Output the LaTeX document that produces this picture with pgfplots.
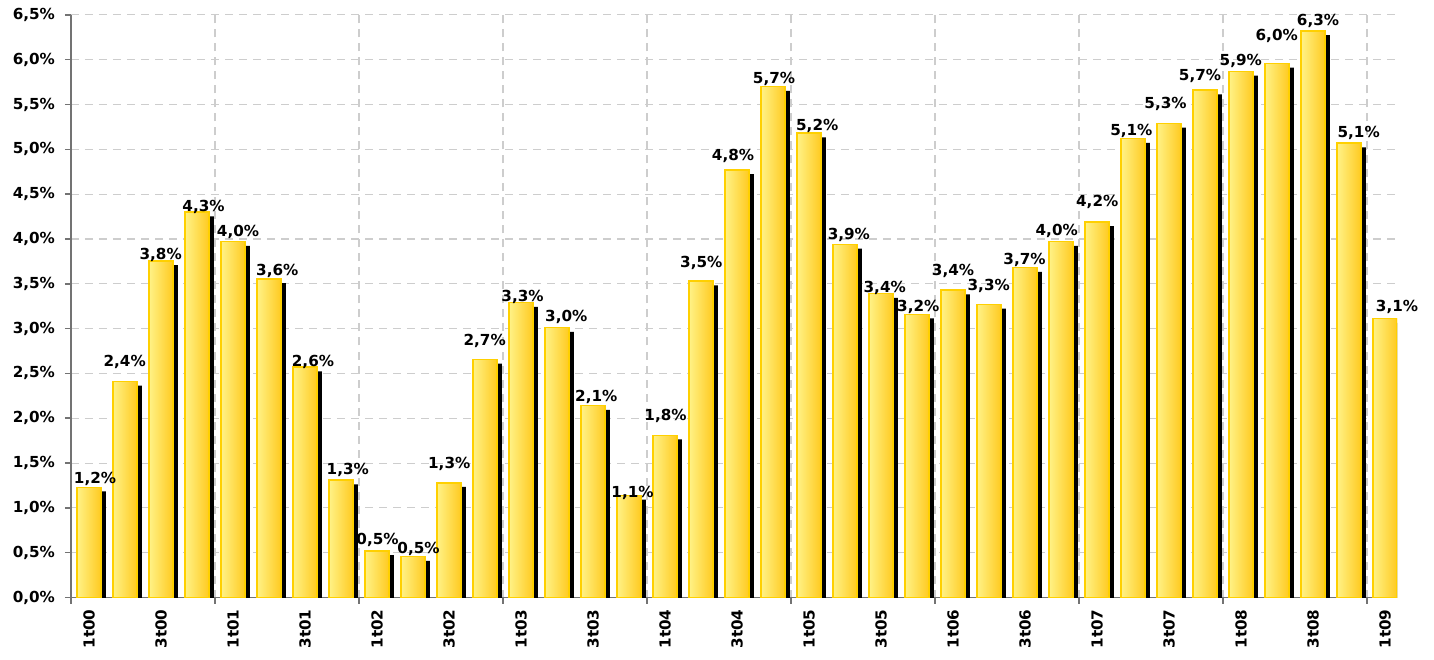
\documentclass[border=0pt]{standalone}
\usepackage{fontspec}
\setmainfont{DejaVu Sans}
\usepackage{pgfplots}
\usepackage{pgfplotstable}
\pgfplotsset{compat=1.18}
\definecolor{barL}{RGB}{255,242,135}
\definecolor{barR}{RGB}{255,202,32}
\definecolor{barE}{RGB}{255,208,0}
\definecolor{gridc}{RGB}{205,205,205}
\definecolor{axc}{RGB}{115,115,115}

\pgfplotstableread{
x y
0 1.23
1 2.41
2 3.755
3 4.30
4 3.97
5 3.555
6 2.57
7 1.31
8 0.52
9 0.455
10 1.28
11 2.655
12 3.29
13 3.01
14 2.14
15 1.14
16 1.81
17 3.53
18 4.77
19 5.70
20 5.18
21 3.94
22 3.39
23 3.16
24 3.43
25 3.27
26 3.68
27 3.97
28 4.19
29 5.12
30 5.29
31 5.66
32 5.87
33 5.96
34 6.32
35 5.07
36 3.11
}\bars

\pgfplotstableread{
x y v
0.167 1.274 1.23
0.992 2.575 2.41
1.992 3.773 3.755
3.181 4.304 4.30
4.139 4.033 3.97
5.231 3.587 3.555
6.222 2.575 2.57
7.189 1.375 1.31
8.014 0.586 0.52
9.153 0.493 0.455
10.006 1.441 1.28
10.992 2.817 2.655
12.042 3.300 3.29
13.258 3.077 3.01
14.092 2.192 2.14
15.097 1.113 1.14
16.014 1.980 1.81
17.008 3.684 3.53
17.889 4.881 4.77
19.028 5.737 5.70
20.228 5.208 5.18
21.106 3.989 3.94
22.103 3.405 3.39
23.036 3.196 3.16
24.000 3.590 3.43
24.992 3.423 3.27
25.986 3.710 3.68
26.881 4.044 3.97
28.006 4.360 4.19
28.953 5.149 5.12
29.903 5.458 5.29
30.861 5.766 5.66
31.994 5.941 5.87
32.992 6.212 5.96
34.139 6.387 6.32
35.269 5.134 5.07
36.333 3.196 3.11
}\labs

\begin{document}
\begin{tikzpicture}
\begin{axis}[
  scale only axis, width=663pt, height=291.3pt,
  xmin=-0.5, xmax=36.333, ymin=0, ymax=6.5,
  axis x line*=bottom, axis y line*=left,
  axis line style={-, draw=axc, line width=0.75pt},
  tick align=outside,
  major tick length=3pt,
  tick style={draw=axc, line width=0.75pt},
  xtick={-0.5,3.5,...,35.5}, xticklabels={},
  extra x ticks={0,2,...,36},
  extra x tick labels={1t00,3t00,1t01,3t01,1t02,3t02,1t03,3t03,1t04,3t04,1t05,3t05,1t06,3t06,1t07,3t07,1t08,3t08,1t09},
  extra x tick style={grid=none, major tick length=0pt, tick label style={yshift=-2.5pt, rotate=90, anchor=east}},
  ytick={0,0.5,...,6.5},
  yticklabel={\pgfmathprintnumber{\tick}\%},
  yticklabel style={xshift=-1.5pt},
  grid=major, grid style={gridc, dash pattern=on 4pt off 3pt, line width=0.55pt},
  tick label style={font=\fontsize{7.6}{9}\selectfont\bfseries, text=black},
  /pgf/number format/.cd, use comma, fixed, fixed zerofill, precision=1, assume math mode=true,
]
\addplot[ybar, bar width=12.8pt, bar shift=2pt, fill=black, draw=none, yshift=-2.1pt] table[x=x,y=y]{\bars};
\pgfplotsinvokeforeach{0,...,36}{
  \addplot[ybar, bar width=12.05pt, bar shift=0pt, draw=barE, line width=0.75pt, left color=barL, right color=barR, restrict x to domain=#1:#1] table[x=x,y=y]{\bars};
}
\addplot[draw=none, nodes near coords={\pgfmathprintnumber{\pgfplotspointmeta}\%}, point meta=explicit,
  nodes near coords style={anchor=base, inner sep=0pt, font=\fontsize{7.6}{9}\selectfont\bfseries, text=black}]
  table[x=x,y=y,meta=v]{\labs};
\end{axis}
\pgfresetboundingbox
\path[use as bounding box] (-35.5pt,-30.75pt) rectangle (681.5pt,298.75pt);
\end{tikzpicture}
\end{document}
